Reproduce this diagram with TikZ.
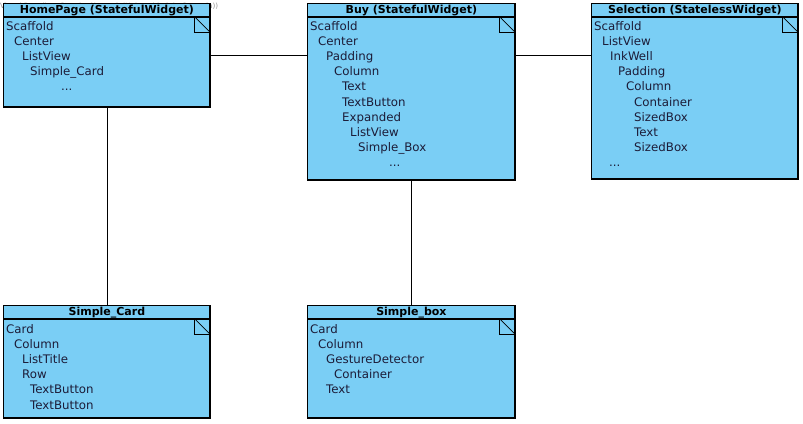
\documentclass[tikz,border=0pt]{standalone}
\usepackage{fontspec}
\setmainfont{DejaVu Sans}
\definecolor{boxfill}{RGB}{122,206,245}
\definecolor{txt}{RGB}{28,28,56}
\tikzset{
  ubox/.style={draw=black, line width=0.8pt, fill=boxfill, rectangle, inner sep=0pt},
  thick edge/.style={line width=1.8pt},
  titletext/.style={font=\fontsize{11}{13}\selectfont\bfseries, text=black, inner sep=0pt},
  bodytext/.style={font=\fontsize{11.8}{14}\selectfont, text=txt, inner sep=0pt, anchor=base west},
  conn/.style={draw=black, line width=0.8pt},
  wmark/.style={font=\fontsize{7.2}{8}\selectfont, text=black!40, inner sep=0pt, anchor=west}
}
\newcommand\umlbox[6]{%
  \node[ubox, minimum width=#4pt, minimum height=#5pt, anchor=north west] (#1) at (#2,#3) {};
  \draw[thick edge] ([xshift=-0.5pt,yshift=-0.4pt]#1.north east) -- ([xshift=-0.5pt,yshift=0.5pt]#1.south east) -- ([xshift=-0.4pt,yshift=0.5pt]#1.south west);
  \draw[thick edge] ([yshift=-14pt]#1.north west) -- ([yshift=-14pt,xshift=-0.5pt]#1.north east);
  \node[titletext] (#1title) at ([yshift=-7.5pt]#1.north) {#6};
  \draw[line width=0.7pt] ([xshift=-16pt,yshift=-14pt]#1.north east) rectangle ([xshift=-1pt,yshift=-29pt]#1.north east);
  \draw[line width=0.7pt] ([xshift=-16pt,yshift=-14pt]#1.north east) -- ([xshift=-1pt,yshift=-29pt]#1.north east);
}
\newcommand\tline[4]{\node[bodytext] (#1) at (#2,#3) {#4};}
\begin{document}
\begin{tikzpicture}[x=1pt,y=-1pt]
\useasboundingbox (0,0) rectangle (803,423);
\fill[white] (0,0) rectangle (803,423);
\node[wmark] (wm) at (0,7) {Visual Paradigm Standard(usuario(Universidad de Granada))};

% boxes
\umlbox{home}{3}{3}{207}{104}{HomePage (StatefulWidget)}
\umlbox{buy}{307}{3}{208}{177}{Buy (StatefulWidget)}
\umlbox{sel}{591}{3}{207}{176}{Selection (StatelessWidget)}
\umlbox{card}{3}{305}{207}{113}{Simple\_Card}
\umlbox{sbox}{307}{305}{208}{113}{Simple\_box}

% HomePage body
\tline{h1}{6}{30.5}{Scaffold}
\tline{h2}{14}{45.6}{Center}
\tline{h3}{22}{60.7}{ListView}
\tline{h4}{30}{75.8}{Simple\_Card}
\tline{h5}{61}{90.9}{...}

% Buy body
\tline{b1}{310}{30.5}{Scaffold}
\tline{b2}{318}{45.6}{Center}
\tline{b3}{326}{60.7}{Padding}
\tline{b4}{334}{75.8}{Column}
\tline{b5}{342}{90.9}{Text}
\tline{b6}{342}{106}{TextButton}
\tline{b7}{342}{121.1}{Expanded}
\tline{b8}{350}{136.2}{ListView}
\tline{b9}{358}{151.3}{Simple\_Box}
\tline{b10}{389}{166.4}{...}

% Selection body
\tline{s1}{594}{30.5}{Scaffold}
\tline{s2}{602}{45.6}{ListView}
\tline{s3}{610}{60.7}{InkWell}
\tline{s4}{618}{75.8}{Padding}
\tline{s5}{626}{90.9}{Column}
\tline{s6}{634}{106}{Container}
\tline{s7}{634}{121.1}{SizedBox}
\tline{s8}{634}{136.2}{Text}
\tline{s9}{634}{151.3}{SizedBox}
\tline{s10}{609}{166.4}{...}

% Simple_Card body
\tline{c1}{6}{333.5}{Card}
\tline{c2}{14}{348.6}{Column}
\tline{c3}{22}{363.7}{ListTitle}
\tline{c4}{22}{378.8}{Row}
\tline{c5}{30}{393.9}{TextButton}
\tline{c6}{30}{409}{TextButton}

% Simple_box body
\tline{x1}{310}{333.5}{Card}
\tline{x2}{318}{348.6}{Column}
\tline{x3}{326}{363.7}{GestureDetector}
\tline{x4}{334}{378.8}{Container}
\tline{x5}{326}{393.9}{Text}

% connectors
\draw[conn] (home.east) -- (home.east -| buy.west);
\draw[conn] (buy.east |- home.east) -- (sel.west |- home.east);
\draw[conn] (home.south) -- (card.north);
\draw[conn] (buy.south) -- (sbox.north);
\end{tikzpicture}
\end{document}
